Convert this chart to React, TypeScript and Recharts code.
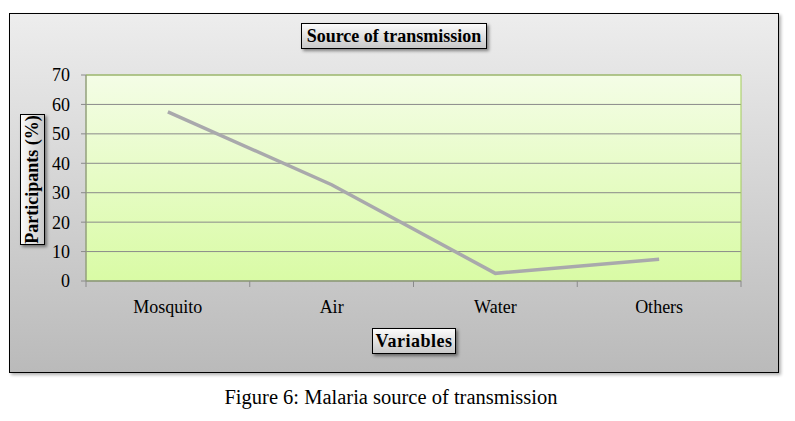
import { LineChart, Line, XAxis, YAxis, CartesianGrid, ReferenceArea } from 'recharts';

const categories = ['Mosquito', 'Air', 'Water', 'Others'];
const participants = [57.5, 32.7, 2.6, 7.4];
const yTicks = [0, 10, 20, 30, 40, 50, 60, 70];

const data = categories.map((name, i) => ({ name, value: participants[i] }));

const serif = '"Liberation Serif", "DejaVu Serif", serif';

const boxStyle: React.CSSProperties = {
  position: 'absolute',
  boxSizing: 'border-box',
  border: '1px solid #000',
  background: 'linear-gradient(#fbfbfb, #c9c9c9)',
  boxShadow: '2px 2px 3px rgba(0,0,0,0.45)',
  fontFamily: serif,
  fontWeight: 'bold',
  fontSize: 18,
  color: '#000',
  display: 'flex',
  alignItems: 'center',
  justifyContent: 'center',
  whiteSpace: 'nowrap',
};

// category label at band centre, tick marks at band edges
function CategoryTick(props: any) {
  const { x, y, payload, index, visibleTicksCount } = props;
  const half = payload.offset ?? 0;
  const last = index === visibleTicksCount - 1;
  return (
    <g>
      <line x1={x - half} y1={y} x2={x - half} y2={y + 6} stroke="#8a8a8a" />
      {last && <line x1={x + half} y1={y} x2={x + half} y2={y + 6} stroke="#8a8a8a" />}
      <text x={x} y={y + 32} textAnchor="middle" fontFamily={serif} fontSize={18} fill="#000">
        {payload.value}
      </text>
    </g>
  );
}

export default function App() {
  return (
    <div style={{ position: 'absolute', left: 0, top: 0, width: 795, height: 421, background: '#fff' }}>
      <div
        style={{
          position: 'absolute',
          left: 9,
          top: 13,
          width: 770,
          height: 360,
          boxSizing: 'border-box',
          border: '1px solid #000',
          background: 'linear-gradient(#ededed, #bababa)',
          boxShadow: '2px 2px 3px rgba(0,0,0,0.3)',
        }}
      >
        <div style={{ position: 'absolute', left: -1, top: -1 }}>
          <LineChart
            width={770}
            height={360}
            data={data}
            margin={{ top: 62, right: 38, left: 37, bottom: 62 }}
          >
            <defs>
              <linearGradient id="plotGrad" x1="0" y1="0" x2="0" y2="1">
                <stop offset="0%" stopColor="#f4fde6" />
                <stop offset="100%" stopColor="#d9fba5" />
              </linearGradient>
            </defs>
            <CartesianGrid vertical={false} stroke="#8a8a8a" fill="url(#plotGrad)" fillOpacity={1} />
            <ReferenceArea y1={0} y2={70} fill="none" stroke="#a3cc5c" strokeWidth={1} ifOverflow="visible" />
            <XAxis
              dataKey="name"
              scale="band"
              stroke="#8a8a8a"
              tickLine={false}
              tickSize={0}
              tickMargin={0}
              height={30}
              tick={<CategoryTick />}
              interval={0}
            />
            <YAxis
              domain={[0, 70]}
              ticks={yTicks}
              width={40}
              stroke="#8a8a8a"
              tickSize={5}
              tickMargin={11}
              tick={{ fontFamily: serif, fontSize: 18, fill: '#000' }}
              interval={0}
            />
            <Line
              type="linear"
              dataKey="value"
              stroke="#a9a9ac"
              strokeWidth={3.5}
              dot={false}
              activeDot={false}
              isAnimationActive={false}
            />
          </LineChart>
        </div>
        <div style={{ ...boxStyle, left: 291, top: 9, width: 186, height: 26 }}>Source of transmission</div>
        <div style={{ ...boxStyle, left: 362, top: 314, width: 84, height: 26, letterSpacing: 0.5 }}>Variables</div>
        <div
          style={{
            ...boxStyle,
            left: -43,
            top: 153,
            width: 131,
            height: 25,
            transform: 'rotate(-90deg)',
            boxShadow: '-2px 2px 3px rgba(0,0,0,0.45)',
          }}
        >
          Participants (%)
        </div>
      </div>
      <div
        style={{
          position: 'absolute',
          left: 0,
          width: 782,
          top: 386,
          textAlign: 'center',
          fontFamily: serif,
          fontSize: 20.5,
          color: '#000',
        }}
      >
        Figure 6: Malaria source of transmission
      </div>
    </div>
  );
}
